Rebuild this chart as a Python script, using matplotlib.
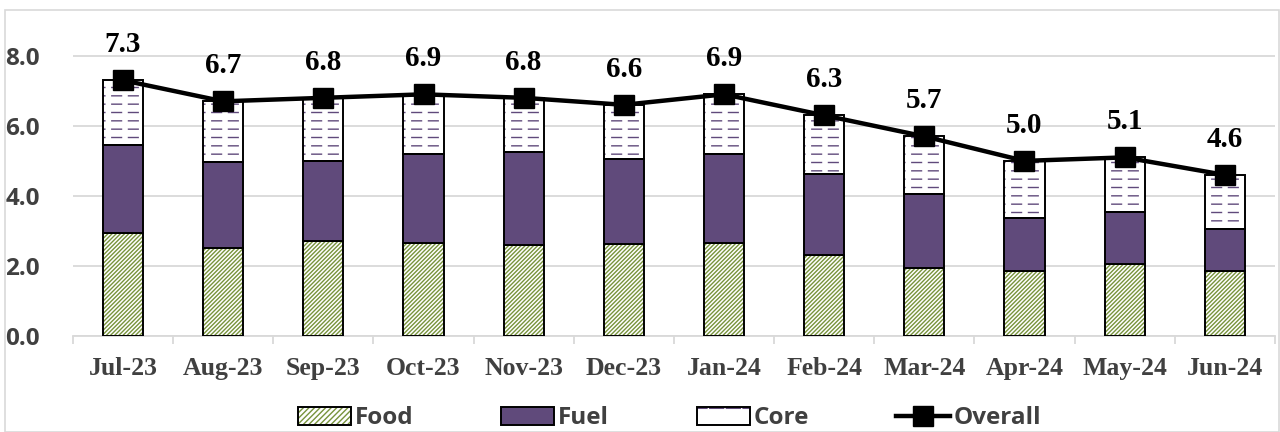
import numpy as np
import matplotlib
matplotlib.use("Agg")
import matplotlib.pyplot as plt
from matplotlib.lines import Line2D
from matplotlib.patches import Rectangle

months = ["Jul-23", "Aug-23", "Sep-23", "Oct-23", "Nov-23", "Dec-23",
          "Jan-24", "Feb-24", "Mar-24", "Apr-24", "May-24", "Jun-24"]
food = [2.95, 2.52, 2.71, 2.65, 2.59, 2.62, 2.67, 2.32, 1.93, 1.86, 2.05, 1.85]
fuel = [2.51, 2.44, 2.28, 2.56, 2.67, 2.43, 2.54, 2.32, 2.13, 1.50, 1.48, 1.21]
core = [1.84, 1.74, 1.81, 1.69, 1.54, 1.55, 1.69, 1.66, 1.64, 1.64, 1.57, 1.54]
overall = [7.3, 6.7, 6.8, 6.9, 6.8, 6.6, 6.9, 6.3, 5.7, 5.0, 5.1, 4.6]

GREEN = "#77933C"
PURPLE = "#604A7B"
GREY = "#404040"
SANS = ["Open Sans", "DejaVu Sans"]
SERIF = ["Liberation Serif", "DejaVu Serif"]

plt.rcParams["hatch.linewidth"] = 1.0

fig = plt.figure(figsize=(12.8, 4.32), dpi=100)
ax = fig.add_axes([0.057, 0.222, 0.939, 0.73])
fig.patches.append(Rectangle((0.004, 0.0), 0.995, 0.977, transform=fig.transFigure,
                             fill=False, ec="#d9d9d9", lw=1.2))

x = np.arange(len(months))
w = 0.4
food_a, fuel_a, core_a = map(np.array, (food, fuel, core))
core_bot = food_a + fuel_a


def thick_hatch(patches, lw):
    for p in patches:
        try:
            p.set_hatch_linewidth(lw)
        except AttributeError:
            pass


ax.bar(x, food_a, w, color="white", edgecolor=GREEN, hatch="////////", lw=0, zorder=2)
ax.bar(x, food_a, w, fill=False, edgecolor="black", lw=1.4, zorder=3)
ax.bar(x, fuel_a, w, bottom=food_a, color=PURPLE, edgecolor="black", lw=1.4, zorder=3)
ax.bar(x, core_a, w, bottom=core_bot, color="white", edgecolor=PURPLE,
       hatch="--", lw=0, zorder=2)
# white vertical hatch over the horizontal one breaks the lines into dashes
cuts = ax.bar(x, core_a, w, bottom=core_bot, fill=False, edgecolor="white",
              hatch="|", lw=0, zorder=2.5)
thick_hatch(cuts, 4.0)
ax.bar(x, core_a, w, bottom=core_bot, fill=False, edgecolor="black", lw=1.4, zorder=3)

ax.plot(x, overall, color="black", lw=3.2, marker="s", ms=14, zorder=5)
for xi, v in zip(x, overall):
    ax.annotate(f"{v:.1f}", (xi, v), xytext=(0, 16), textcoords="offset points",
                ha="center", va="bottom", fontsize=21, fontweight="bold",
                family=SERIF, color="black")

ax.set_xlim(-0.5, len(months) - 0.5)
ax.set_ylim(0, 9.0)
ax.set_yticks(np.arange(0, 8.1, 2.0))
ax.set_yticklabels([f"{t:.1f}" for t in np.arange(0, 8.1, 2.0)],
                   fontsize=17.5, fontweight="bold", family=SANS, color=GREY)
ax.yaxis.grid(True, color="#d9d9d9", lw=1.3, zorder=0)
ax.set_axisbelow(True)

ax.set_xticks(x)
ax.set_xticklabels(months, fontsize=18.5, fontweight="bold", family=SERIF, color=GREY)
ax.set_xticks(np.arange(-0.5, len(months)), minor=True)
ax.tick_params(axis="x", which="major", length=0, pad=15)
ax.tick_params(axis="x", which="minor", length=6, color="#d9d9d9", width=1.3)
ax.tick_params(axis="y", length=0, pad=24)

for s in ("top", "right", "left"):
    ax.spines[s].set_visible(False)
ax.spines["bottom"].set_color("#d9d9d9")
ax.spines["bottom"].set_linewidth(1.3)


class LayeredPatches:
    """Legend handler drawing a tuple of patches on top of each other."""

    def legend_artist(self, legend, orig_handle, fontsize, handlebox):
        x0, y0 = -handlebox.xdescent, -handlebox.ydescent
        for src in orig_handle:
            r = Rectangle((x0, y0), handlebox.width, handlebox.height)
            r.update_from(src)
            r.set_transform(handlebox.get_transform())
            handlebox.add_artist(r)
        return r


def box():
    return Rectangle((0, 0), 1, 1, fill=False, edgecolor="black", lw=1.4)


food_h = (Rectangle((0, 0), 1, 1, facecolor="white", edgecolor=GREEN,
                    hatch="//////", lw=0), box())
fuel_h = Rectangle((0, 0), 1, 1, facecolor=PURPLE, edgecolor="black", lw=1.4)
core_cut = Rectangle((0, 0), 1, 1, fill=False, edgecolor="white", hatch="|", lw=0)
thick_hatch([core_cut], 5.0)
core_h = (Rectangle((0, 0), 1, 1, facecolor="white", edgecolor=PURPLE, hatch="-", lw=0),
          core_cut, box())
line_h = Line2D([], [], color="black", lw=3.2, marker="s", ms=14)

leg = fig.legend([food_h, fuel_h, core_h, line_h], ["Food", "Fuel", "Core", "Overall"],
                 loc="lower center", bbox_to_anchor=(0.523, -0.047), ncol=4, frameon=False,
                 prop={"family": SANS, "weight": "bold", "size": 17.5},
                 handler_map={tuple: LayeredPatches()},
                 handlelength=2.2, handleheight=0.75, columnspacing=3.6, handletextpad=0.15)
for t in leg.get_texts():
    t.set_color(GREY)

fig.savefig("out.png", dpi=100)
